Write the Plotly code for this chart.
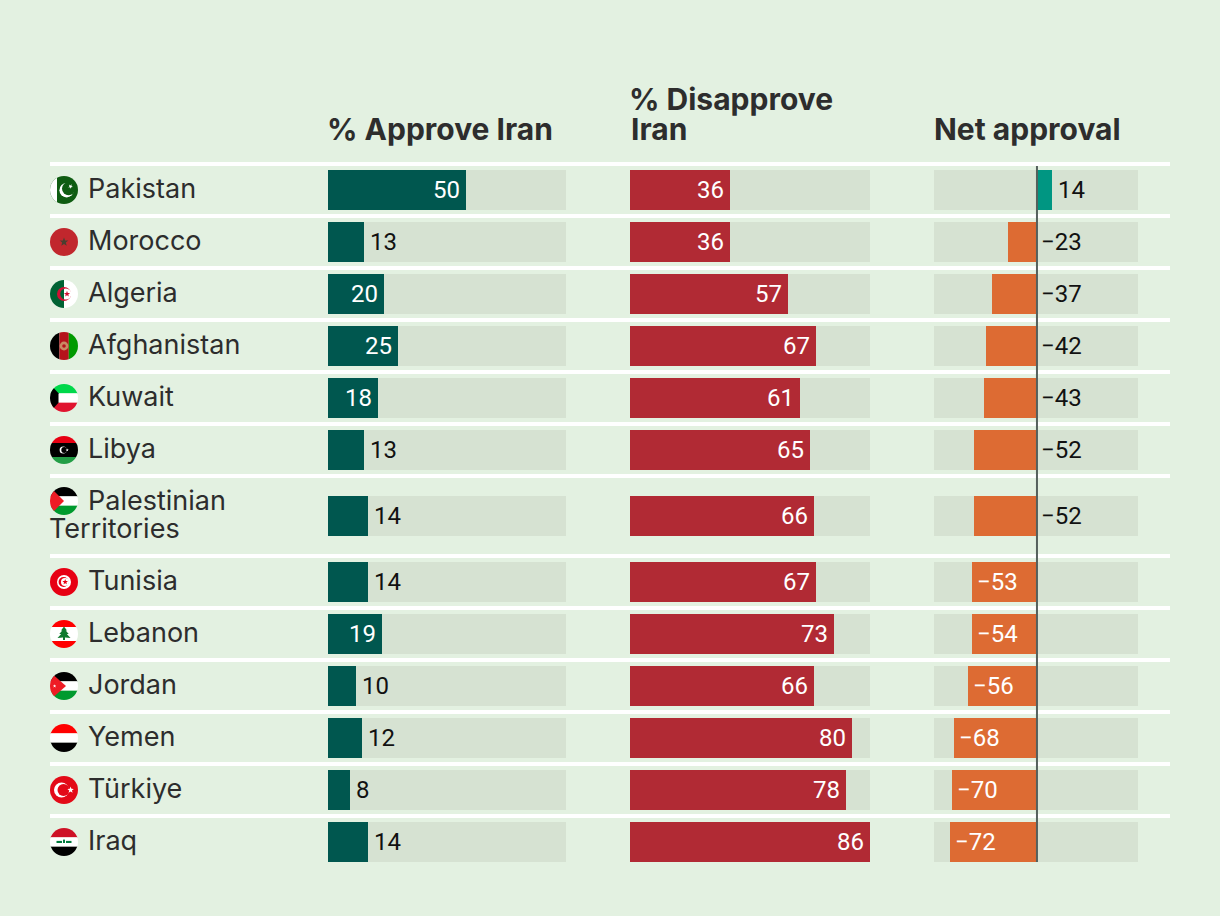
import base64
import math
import plotly.graph_objects as go

countries = ["Pakistan", "Morocco", "Algeria", "Afghanistan", "Kuwait", "Libya",
             "Palestinian Territories", "Tunisia", "Lebanon", "Jordan", "Yemen", "Türkiye", "Iraq"]
flag_keys = ["pk", "ma", "dz", "af", "kw", "ly", "ps", "tn", "lb", "jo", "ye", "tr", "iq"]

approve_values = [49.8, 13.0, 20.2, 25.3, 18.1, 13.0, 14.4, 14.4, 19.5, 10.1, 12.3, 7.9, 14.4]
approve_labels = [50, 13, 20, 25, 18, 13, 14, 14, 19, 10, 12, 8, 14]
disapprove_values = [35.8, 35.8, 56.6, 66.7, 60.9, 64.5, 65.9, 66.7, 73.1, 65.9, 79.6, 77.4, 86.0]
disapprove_labels = [36, 36, 57, 67, 61, 65, 66, 67, 73, 66, 80, 78, 86]
net_values = [12.4, -24.0, -37.2, -42.1, -43.8, -52.0, -52.0, -53.7, -53.7, -57.0, -68.6, -70.2, -71.9]
net_labels = [14, -23, -37, -42, -43, -52, -52, -53, -54, -56, -68, -70, -72]

PCT_MAX = 86
NET_MIN, NET_MAX = -85.1, 83.5

W, H = 1220, 916
BG = "#e3f1e1"
TRACK = "#d6e2d2"
GREEN = "#00574f"
RED = "#b12a34"
ORANGE = "#dd6b33"
TEAL = "#009682"
ZERO = "#55605c"
INK = "#2d2d2d"
NUM = "#111111"
FONT = "Inter"
NUM_FONT = "Roboto"

# Row layout, in pixels of the y axis
row_heights = [76 if "Territories" in c else 48 for c in countries]
SEP = 4
tops = []
cursor = 162
for h in row_heights:
    tops.append(cursor)
    cursor += SEP + h
centers = [t + SEP + h / 2 for t, h in zip(tops, row_heights)]
BAR_H = 40


def star(cx, cy, r, fill, rot=-90):
    pts = []
    for i in range(10):
        rr = r if i % 2 == 0 else r * 0.42
        a = math.radians(rot + i * 36)
        pts.append(f"{cx + rr * math.cos(a):.2f},{cy + rr * math.sin(a):.2f}")
    return f'<polygon points="{" ".join(pts)}" fill="{fill}"/>'


def hstripes(*cols):
    n = len(cols)
    return "".join(f'<rect x="0" y="{i * 28 / n:.3f}" width="28" height="{28 / n + .1:.3f}" fill="{c}"/>'
                   for i, c in enumerate(cols))


def c(cx, cy, r, fill):
    return f'<circle cx="{cx}" cy="{cy}" r="{r}" fill="{fill}"/>'


FLAGS = {
    "pk": '<rect width="28" height="28" fill="#0f5c12"/><rect width="7" height="28" fill="#fff"/>'
          + c(16.6, 14.2, 7.2, "#fff") + c(18.6, 12.6, 6.6, "#0f5c12") + star(20.5, 10.4, 2.4, "#fff", -60),
    "ma": '<rect width="28" height="28" fill="#c1272d"/>' + star(14, 14, 4.6, "#4a3f30"),
    "dz": '<defs><clipPath id="in"><circle cx="15.8" cy="14" r="5.6"/></clipPath></defs>'
          '<rect width="28" height="28" fill="#fff"/><rect width="14" height="28" fill="#006233"/>'
          + c(14, 14, 7, "#d21034")
          + '<g clip-path="url(#in)"><rect width="14" height="28" fill="#006233"/>'
            '<rect x="14" width="14" height="28" fill="#fff"/></g>' + star(17, 14, 3.2, "#d21034"),
    "af": '<rect width="9.4" height="28" fill="#000"/><rect x="9.4" width="9.4" height="28" fill="#b5121b"/>'
          '<rect x="18.8" width="9.2" height="28" fill="#009a00"/>'
          + c(14, 14, 4.4, "#c98a62") + c(14, 14, 1.8, "#b5121b"),
    "kw": hstripes("#00d84a", "#fff", "#e0142f") + '<polygon points="0,0 8.5,9.33 8.5,18.67 0,28" fill="#000"/>',
    "ly": hstripes("#e70013", "#000", "#000", "#239e46")
          + c(13.2, 14, 3.6, "#fff") + c(14.2, 14, 2.9, "#000") + star(17.2, 14, 1.6, "#fff"),
    "ps": hstripes("#000", "#fff", "#009a2e") + '<polygon points="0,0 14,14 0,28" fill="#ee1c25"/>',
    "tn": '<rect width="28" height="28" fill="#e70013"/>' + c(14, 14, 7, "#fff") + c(13.6, 14, 5, "#e70013")
          + c(15, 14, 4, "#fff") + star(15.2, 14, 2.9, "#e70013"),
    "lb": hstripes("#ff0000", "#fff", "#fff", "#ff0000")
          + '<path d="M14 6.5 L17 10.5 L15.7 10.5 L18.7 14 L16.8 14 L20.5 18 L15 17.6 L15 20 L13 20 L13 17.6 L7.5 18 L11.2 14 L9.3 14 L12.3 10.5 L11 10.5 Z" fill="#0f7a2e"/>',
    "jo": hstripes("#000", "#fff", "#009a2e") + '<polygon points="0,0 16,14 0,28" fill="#ee1c25"/>'
          + star(4.6, 14, 1.8, "#fff"),
    "ye": hstripes("#ff0000", "#fff", "#000"),
    "tr": '<rect width="28" height="28" fill="#e30a17"/>' + c(11.5, 14, 7.5, "#fff") + c(13.5, 14, 6, "#e30a17")
          + star(20.6, 14, 3.4, "#fff"),
    "iq": hstripes("#ce1126", "#fff", "#000")
          + '<rect x="6.5" y="12.9" width="5.5" height="2.1" fill="#007a3d"/>'
            '<rect x="13" y="11.6" width="2" height="3.4" fill="#007a3d"/>'
            '<rect x="16" y="12.9" width="5.5" height="2.1" fill="#007a3d"/>',
}


def flag_uri(key):
    svg = ('<svg xmlns="http://www.w3.org/2000/svg" width="56" height="56" viewBox="0 0 28 28">'
           '<defs><clipPath id="k"><circle cx="14" cy="14" r="14"/></clipPath></defs>'
           f'<g clip-path="url(#k)">{FLAGS[key]}</g></svg>')
    return "data:image/svg+xml;base64," + base64.b64encode(svg.encode()).decode()


fig = go.Figure()


def bars(x, color, axis, base=None):
    fig.add_trace(go.Bar(y=centers, x=x, base=base, orientation="h", width=BAR_H,
                         marker=dict(color=color, line=dict(width=0)),
                         xaxis=axis, yaxis="y", showlegend=False, hoverinfo="skip"))


n = len(countries)
bars([PCT_MAX] * n, TRACK, "x")
bars(approve_values, GREEN, "x")
bars([PCT_MAX] * n, TRACK, "x2")
bars(disapprove_values, RED, "x2")
bars([NET_MAX - NET_MIN] * n, TRACK, "x3", base=[NET_MIN] * n)
bars(net_values, [TEAL if v > 0 else ORANGE for v in net_values], "x3")

anns = []


def note(text, xref, x, y, anchor="left", size=22, color=NUM, xshift=0, weight=None, family=FONT):
    anns.append(dict(text=text, xref=xref, yref="y", x=x, y=y, xanchor=anchor, yanchor="middle",
                     showarrow=False, xshift=xshift, borderpad=0, borderwidth=0,
                     font=dict(family=family, size=size, color=color, weight=weight or 400)))


NUM_SIZE = 24
for i, yc in enumerate(centers):
    ny = yc
    # Approve: small values sit outside the bar
    v, lab = approve_values[i], approve_labels[i]
    if lab >= 18:
        note(str(lab), "x", v, ny, "right", NUM_SIZE, "#ffffff", xshift=-6, family=NUM_FONT)
    else:
        note(str(lab), "x", v, ny, "left", NUM_SIZE, NUM, xshift=6, family=NUM_FONT)
    # Disapprove
    note(str(disapprove_labels[i]), "x2", disapprove_values[i], ny, "right", NUM_SIZE, "#ffffff", xshift=-6,
         family=NUM_FONT)
    # Net
    v, lab = net_values[i], net_labels[i]
    txt = str(lab).replace("-", "\u2212")
    if lab > 0:
        note(txt, "x3", v, ny, "left", NUM_SIZE, NUM, xshift=6, family=NUM_FONT)
    elif lab >= -52:
        note(txt, "x3", 0, ny, "left", NUM_SIZE, NUM, xshift=4, family=NUM_FONT)
    else:
        note(txt, "x3", v, ny, "left", NUM_SIZE, "#ffffff", xshift=5, family=NUM_FONT)

    # Country names
    name = countries[i]
    if "Territories" in name:
        first, second = name.split(" ")
        note(first, "paper", 88 / W, yc - 16, "left", 27, INK)
        note(second, "paper", 49 / W, yc + 12, "left", 27, INK)
    else:
        note(name, "paper", 88 / W, yc - 2, "left", 27, INK)

# Headers
HEAD_BASE = 129
note("% Approve Iran", "paper", 327 / W, HEAD_BASE, "left", 30, INK, weight=700)
note("% Disapprove", "paper", 629 / W, HEAD_BASE - 30, "left", 30, INK, weight=700)
note("Iran", "paper", 631 / W, HEAD_BASE, "left", 30, INK, weight=700)
note("Net approval", "paper", 934 / W, HEAD_BASE, "left", 30, INK, weight=700)

shapes = []
for t in tops:
    shapes.append(dict(type="rect", xref="paper", yref="y", x0=50 / W, x1=1170 / W, y0=t, y1=t + SEP,
                       fillcolor="#ffffff", line=dict(width=0), layer="below"))
shapes.append(dict(type="line", xref="x3", yref="y", x0=0, x1=0, y0=tops[0] + SEP, y1=tops[-1] + SEP + row_heights[-1] - 4,
                   line=dict(color=ZERO, width=2), layer="above"))

images = []
for i, key in enumerate(flag_keys):
    is_wrapped = "Territories" in countries[i]
    yc = centers[i] - (15 if is_wrapped else 0)
    images.append(dict(source=flag_uri(key), xref="paper", yref="y", x=50 / W, y=yc - 14,
                       sizex=28 / W, sizey=28, xanchor="left", yanchor="top", sizing="stretch", layer="above"))

hidden = dict(visible=False, fixedrange=True, anchor="y")
fig.update_layout(
    width=W, height=H, margin=dict(l=0, r=0, t=0, b=0, pad=0, autoexpand=False),
    paper_bgcolor=BG, plot_bgcolor="rgba(0,0,0,0)", barmode="overlay", bargap=0,
    showlegend=False, annotations=anns, shapes=shapes, images=images,
    font=dict(family=FONT, color=INK),
    xaxis=dict(domain=[328 / W, 566 / W], range=[0, PCT_MAX], **hidden),
    xaxis2=dict(domain=[630 / W, 870 / W], range=[0, PCT_MAX], **hidden),
    xaxis3=dict(domain=[934 / W, 1138 / W], range=[NET_MIN, NET_MAX], **hidden),
    yaxis=dict(domain=[0, 1], range=[H, 0], visible=False, fixedrange=True),
)

fig.write_html("out.html", config={"displayModeBar": False},
               post_script="document.body.style.margin='0';document.body.style.overflow='hidden';document.body.style.background='" + BG + "';")
